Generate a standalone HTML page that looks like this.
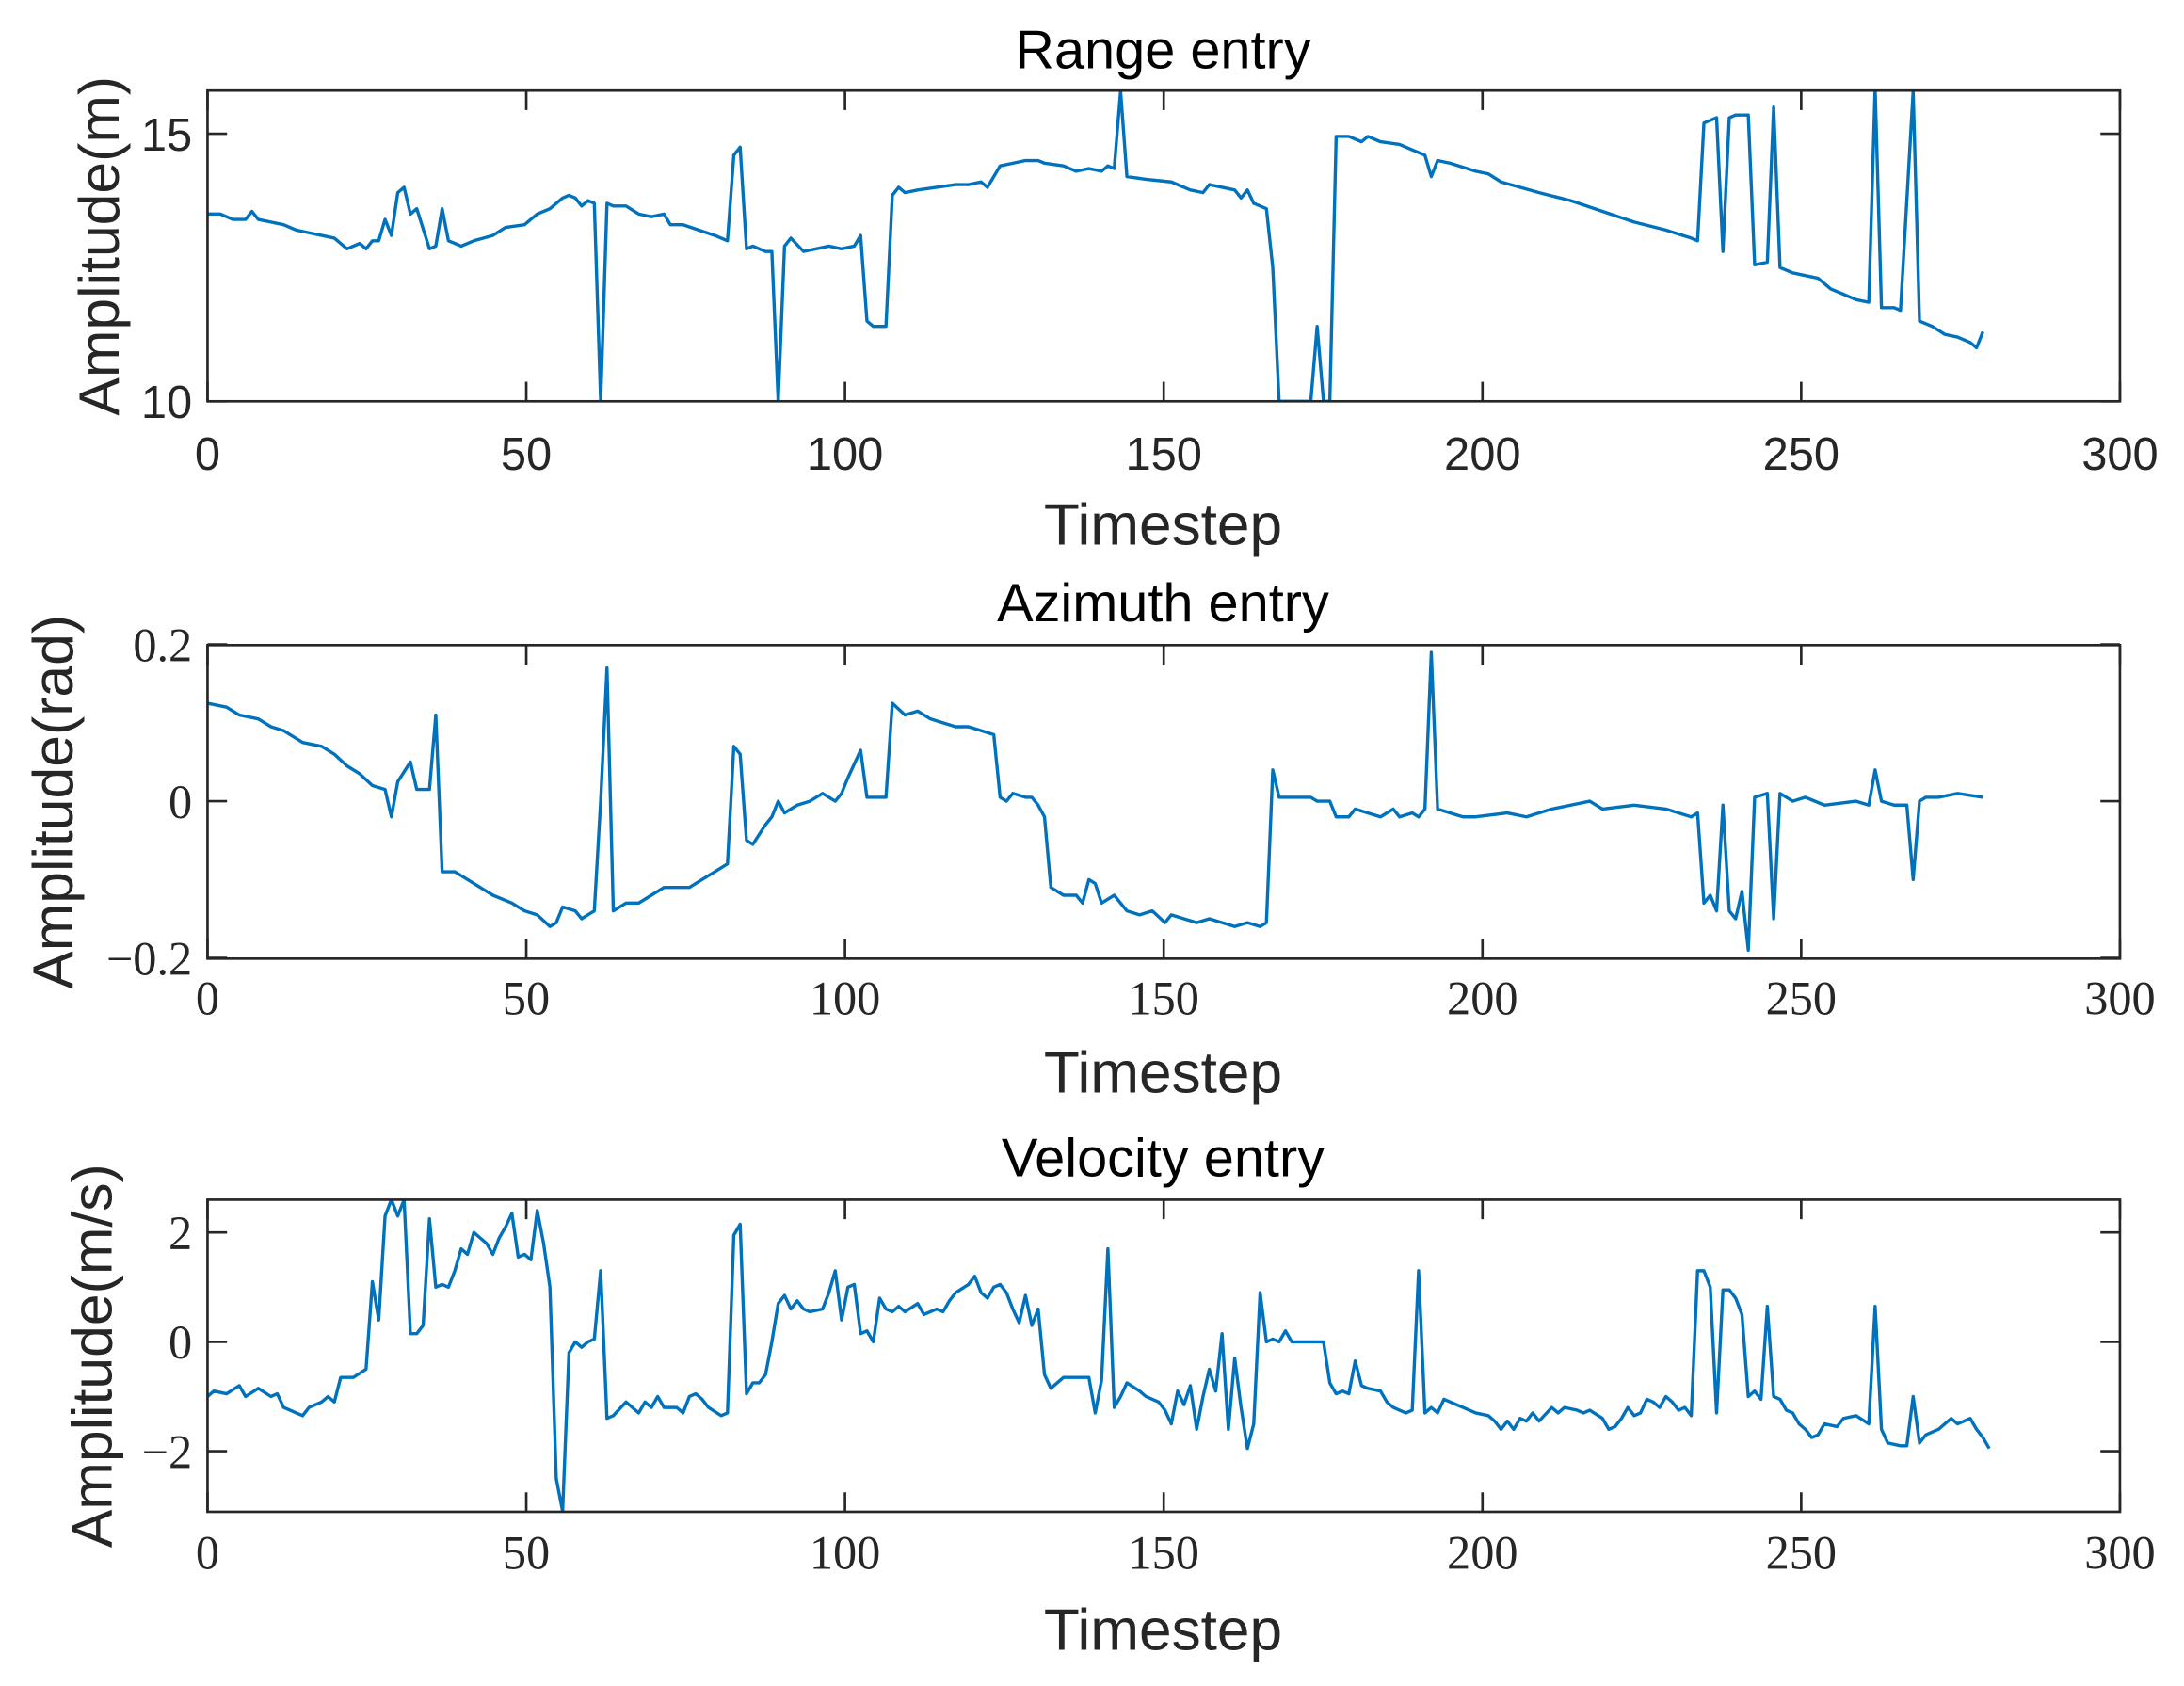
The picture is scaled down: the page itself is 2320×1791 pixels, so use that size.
<!DOCTYPE html>
<html><head><meta charset="utf-8"><style>
html,body{margin:0;padding:0;background:#fff;}
svg{display:block;}
.s{font-family:"Liberation Sans",sans-serif;fill:#262626;}
.r{font-family:"Liberation Serif",serif;fill:#262626;}
</style></head><body>
<svg id="g" width="2320" height="1791" viewBox="0 0 1568 1210" preserveAspectRatio="none" xmlns="http://www.w3.org/2000/svg"></svg>
<script>
const NS="http://www.w3.org/2000/svg";
const g=document.getElementById('g');
function el(t,a,txt){const e=document.createElementNS(NS,t);for(const k in a)e.setAttribute(k,a[k]);if(txt!==undefined)e.textContent=txt;g.appendChild(e);return e;}
const L=149,R=1522;
function X(t){return L+t*(R-L)/300;}
const plots=[
{top:65,bot:288,ticks:[[10,"10"],[15,"15"]],serif:false,title:"Range entry",ylab:"Amplitude(m)",ylx:85,tty:49,tky:337,xly:391,
d:"0 13.5 2 13.5 4 13.4 6 13.4 7 13.55 8 13.4 10 13.35 12 13.3 14 13.2 16 13.15 18 13.1 20 13.05 22 12.85 24 12.95 25 12.85 26 13 27 13 28 13.4 29 13.1 30 13.9 31 14 32 13.5 33 13.6 35 12.85 36 12.9 37 13.6 38 13 39 12.95 40 12.9 42 13 45 13.1 47 13.25 50 13.3 52 13.5 54 13.6 56 13.8 57 13.85 58 13.8 59 13.65 60 13.75 61 13.7 62 10 63 13.7 64 13.65 66 13.65 68 13.5 70 13.45 72 13.5 73 13.3 75 13.3 80 13.1 82 13 83 14.6 84 14.75 85 12.85 86 12.9 88 12.8 89 12.8 90 10 91 12.9 92 13.05 94 12.8 96 12.85 98 12.9 100 12.85 102 12.9 103 13.1 104 11.5 105 11.4 107 11.4 108 13.85 109 14 110 13.9 112 13.95 115 14 118 14.05 120 14.05 122 14.1 123 14 125 14.4 127 14.45 129 14.5 131 14.5 132 14.45 135 14.4 137 14.3 139 14.35 141 14.3 142 14.4 143 14.35 144 15.8 145 14.2 148 14.15 152 14.1 155 13.95 157 13.9 158 14.05 160 14 162 13.95 163 13.8 164 13.95 165 13.7 167 13.6 168 12.5 169 10 171 10 172 10 174 10 175 11.4 176 10 177 10 178 14.95 180 14.95 182 14.85 183 14.95 185 14.85 188 14.8 190 14.7 192 14.6 193 14.2 194 14.5 196 14.45 200 14.3 202 14.25 204 14.1 210 13.9 215 13.75 220 13.55 225 13.35 230 13.2 234 13.05 235 13 236 15.2 238 15.3 239 12.8 240 15.3 241 15.35 243 15.35 244 12.55 246 12.6 247 15.5 248 12.5 250 12.4 254 12.3 256 12.1 258 12 260 11.9 262 11.85 263 15.85 264 11.75 266 11.75 267 11.7 269 15.8 270 11.5 272 11.4 274 11.25 276 11.2 278 11.1 279 11 280 11.3"},
{top:463,bot:688,ticks:[[-0.2,"\u22120.2"],[0,"0"],[0.2,"0.2"]],serif:true,title:"Azimuth entry",ylab:"Amplitude(rad)",ylx:52,tty:446,tky:728,xly:784,
d:"0 0.125 3 0.12 5 0.11 8 0.105 10 0.095 12 0.09 15 0.075 18 0.07 20 0.06 22 0.045 24 0.035 26 0.02 28 0.015 29 -0.02 30 0.025 32 0.05 33 0.015 35 0.015 36 0.11 37 -0.09 39 -0.09 41 -0.1 43 -0.11 45 -0.12 48 -0.13 50 -0.14 52 -0.145 54 -0.16 55 -0.155 56 -0.135 58 -0.14 59 -0.15 60 -0.145 61 -0.14 62 0 63 0.17 64 -0.14 66 -0.13 68 -0.13 70 -0.12 72 -0.11 74 -0.11 76 -0.11 78 -0.1 80 -0.09 82 -0.08 83 0.07 84 0.06 85 -0.05 86 -0.055 88 -0.03 89 -0.02 90 0 91 -0.015 93 -0.005 95 0 97 0.01 99 0 100 0.01 101 0.03 103 0.065 104 0.005 105 0.005 107 0.005 108 0.125 110 0.11 112 0.115 114 0.105 116 0.1 118 0.095 120 0.095 122 0.09 124 0.085 125 0.005 126 0 127 0.01 129 0.005 130 0.005 131 -0.005 132 -0.02 133 -0.11 135 -0.12 137 -0.12 138 -0.13 139 -0.1 140 -0.105 141 -0.13 143 -0.12 145 -0.14 147 -0.145 149 -0.14 151 -0.155 152 -0.145 154 -0.15 156 -0.155 158 -0.15 160 -0.155 162 -0.16 164 -0.155 166 -0.16 167 -0.155 168 0.04 169 0.005 171 0.005 174 0.005 175 0 177 0 178 -0.02 180 -0.02 181 -0.01 183 -0.015 185 -0.02 187 -0.01 188 -0.02 190 -0.015 191 -0.02 192 -0.01 193 0.19 194 -0.01 196 -0.015 198 -0.02 200 -0.02 205 -0.015 208 -0.02 212 -0.01 215 -0.005 218 0 220 -0.01 225 -0.005 230 -0.01 234 -0.02 235 -0.015 236 -0.13 237 -0.12 238 -0.14 239 -0.005 240 -0.14 241 -0.15 242 -0.115 243 -0.19 244 0.005 246 0.01 247 -0.15 248 0.01 250 0 252 0.005 255 -0.005 260 0 262 -0.005 263 0.04 264 0 266 -0.005 268 -0.005 269 -0.1 270 0 271 0.005 273 0.005 276 0.01 280 0.005"},
{top:861,bot:1085,ticks:[[-2,"\u22122"],[0,"0"],[2,"2"]],serif:true,title:"Velocity entry",ylab:"Amplitude(m/s)",ylx:80,tty:844,tky:1126,xly:1184,
d:"0 -1 1 -0.9 3 -0.95 5 -0.8 6 -1 8 -0.85 10 -1 11 -0.95 12 -1.2 14 -1.3 15 -1.35 16 -1.2 18 -1.1 19 -1 20 -1.1 21 -0.65 23 -0.65 25 -0.5 26 1.1 27 0.4 28 2.3 29 2.6 30 2.3 31 2.6 32 0.15 33 0.15 34 0.3 35 2.25 36 1 37 1.05 38 1 39 1.3 40 1.7 41 1.6 42 2 43 1.9 44 1.8 45 1.6 46 1.9 47 2.1 48 2.35 49 1.55 50 1.6 51 1.5 52 2.4 53 1.8 54 1 55 -2.5 56 -3.1 57 -0.2 58 0 59 -0.1 60 0 61 0.05 62 1.3 63 -1.4 64 -1.35 66 -1.1 67 -1.2 68 -1.3 69 -1.1 70 -1.2 71 -1 72 -1.2 74 -1.2 75 -1.3 76 -1 77 -0.95 78 -1.05 79 -1.2 81 -1.35 82 -1.3 83 1.95 84 2.15 85 -0.95 86 -0.75 87 -0.75 88 -0.6 89 0 90 0.7 91 0.85 92 0.6 93 0.75 94 0.6 95 0.55 97 0.6 98 0.9 99 1.3 100 0.4 101 1 102 1.05 103 0.15 104 0.2 105 0 106 0.8 107 0.6 108 0.55 109 0.65 110 0.55 112 0.7 113 0.5 115 0.6 116 0.55 117 0.75 118 0.9 120 1.05 121 1.2 122 0.9 123 0.8 124 1 125 1.05 126 0.9 127 0.6 128 0.35 129 0.85 130 0.3 131 0.6 132 -0.6 133 -0.85 135 -0.65 139 -0.65 140 -1.3 141 -0.7 142 1.7 143 -1.2 144 -1 145 -0.75 147 -0.9 148 -1 150 -1.1 151 -1.25 152 -1.5 153 -0.9 154 -1.15 155 -0.8 156 -1.6 157 -1 158 -0.5 159 -0.9 160 0.15 161 -1.6 162 -0.3 163 -1.2 164 -1.95 165 -1.5 166 0.9 167 0 168 0.05 169 0 170 0.2 171 0 176 0 177 -0.75 178 -0.95 179 -0.9 180 -0.95 181 -0.35 182 -0.8 183 -0.85 185 -0.9 186 -1.1 187 -1.2 188 -1.25 189 -1.3 190 -1.25 191 1.3 192 -1.3 193 -1.2 194 -1.3 195 -1.05 196 -1.1 198 -1.2 200 -1.3 202 -1.35 203 -1.45 204 -1.6 205 -1.45 206 -1.6 207 -1.4 208 -1.45 209 -1.3 210 -1.45 212 -1.2 213 -1.3 214 -1.2 216 -1.25 217 -1.3 218 -1.25 220 -1.4 221 -1.6 222 -1.55 223 -1.4 224 -1.2 225 -1.35 226 -1.3 227 -1.05 228 -1.1 229 -1.2 230 -1 231 -1.1 232 -1.25 233 -1.2 234 -1.35 235 1.3 236 1.3 237 1 238 -1.3 239 0.95 240 0.95 241 0.8 242 0.5 243 -1 244 -0.9 245 -1.05 246 0.65 247 -1 248 -1.05 249 -1.25 250 -1.3 251 -1.5 252 -1.6 253 -1.75 254 -1.7 255 -1.5 257 -1.55 258 -1.4 260 -1.35 262 -1.5 263 0.65 264 -1.6 265 -1.85 267 -1.9 268 -1.9 269 -1 270 -1.85 271 -1.7 273 -1.6 274 -1.5 275 -1.4 276 -1.5 277 -1.45 278 -1.4 279 -1.6 280 -1.75 281 -1.95"}
];
plots[0].Y=v=>288-(v-10)*38.4;
plots[1].Y=v=>575-v*562.5;
plots[2].Y=v=>963-v*39.25;
plots.forEach((p,i)=>{
  const cid="c"+i;
  const cp=el('clipPath',{id:cid});
  const r=document.createElementNS(NS,'rect');
  r.setAttribute('x',L);r.setAttribute('y',p.top);r.setAttribute('width',R-L);r.setAttribute('height',p.bot-p.top);
  cp.appendChild(r);
  const n=p.d.trim().split(/\s+/).map(Number);
  const sc=279.5/281;
  let pts=[];
  for(let k=0;k<n.length;k+=2){pts.push(X(n[k]*sc).toFixed(2)+","+p.Y(n[k+1]).toFixed(2));}
  el('polyline',{points:pts.join(" "),fill:"none",stroke:"#0072BD",'stroke-width':2.3,'clip-path':"url(#"+cid+")",'stroke-linejoin':"round"});
  el('rect',{x:L,y:p.top,width:R-L,height:p.bot-p.top,fill:"none",stroke:"#262626",'stroke-width':1.8});
  const tc=p.serif?'r':'s';
  const fs=p.serif?34:33;
  for(let t=0;t<=300;t+=50){
    const x=X(t);
    el('line',{x1:x,y1:p.bot,x2:x,y2:p.bot-14,stroke:"#262626",'stroke-width':1.8});
    el('line',{x1:x,y1:p.top,x2:x,y2:p.top+14,stroke:"#262626",'stroke-width':1.8});
    el('text',{x:x,y:p.tky,'text-anchor':"middle",'font-size':fs,class:tc},String(t));
  }
  p.ticks.forEach(([v,s])=>{
    const y=p.Y(v);
    el('line',{x1:L,y1:y,x2:L+14,y2:y,stroke:"#262626",'stroke-width':1.8});
    el('line',{x1:R,y1:y,x2:R-14,y2:y,stroke:"#262626",'stroke-width':1.8});
    el('text',{x:138,y:y+12,'text-anchor':"end",'font-size':fs,class:tc},s);
  });
  el('text',{x:835,y:p.tty,'text-anchor':"middle",'font-size':39,class:'s',style:"fill:#000"},p.title);
  el('text',{x:835,y:p.xly,'text-anchor':"middle",'font-size':42,class:'s'},"Timestep");
  const cy=(p.top+p.bot)/2;
  el('text',{x:0,y:0,'text-anchor':"middle",'font-size':41,class:'s',transform:`translate(${p.ylx},${cy}) rotate(-90)`},p.ylab);
});
</script>
</body></html>
